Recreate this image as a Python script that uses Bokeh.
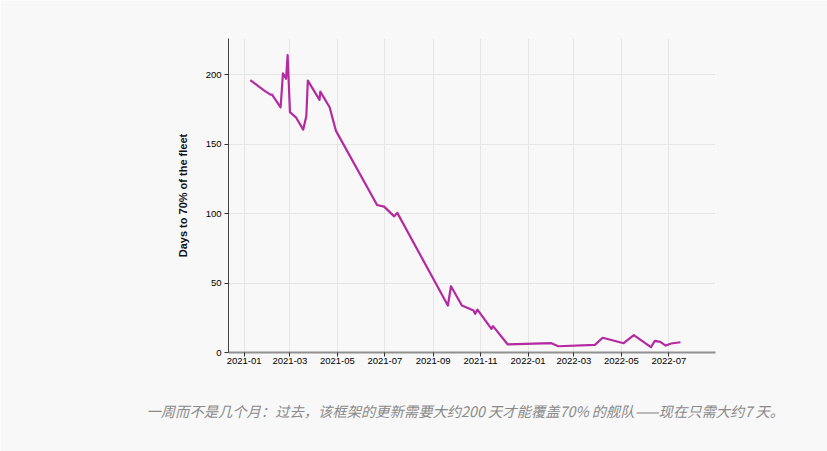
import pandas as pd
from bokeh.plotting import figure
from bokeh.models import FixedTicker, DatetimeTickFormatter, Title, Range1d
from bokeh.embed import file_html
from bokeh.resources import INLINE

dates = ["2021-01-09", "2021-01-27", "2021-02-04", "2021-02-06", "2021-02-17",
         "2021-02-20", "2021-02-24", "2021-02-26", "2021-03-01", "2021-03-09",
         "2021-03-18", "2021-03-22", "2021-03-24", "2021-04-08", "2021-04-09",
         "2021-04-21", "2021-04-29", "2021-06-21", "2021-06-30", "2021-07-13",
         "2021-07-17", "2021-09-20", "2021-09-24", "2021-10-08", "2021-10-23",
         "2021-10-25", "2021-10-28", "2021-11-15", "2021-11-17", "2021-12-06",
         "2022-01-31", "2022-02-09", "2022-03-28", "2022-04-07", "2022-05-04",
         "2022-05-17", "2022-06-08", "2022-06-13", "2022-06-20", "2022-06-27",
         "2022-07-04", "2022-07-16"]
days_to_70 = [196, 188.5, 185.6, 185.6, 176.5,
              201, 197, 214, 173, 169,
              160.4, 170, 195.7, 181.8, 187.8,
              176.5, 159.7, 106.2, 105, 98,
              100.5, 33.8, 47.7, 33.8, 30.2,
              27.8, 30.9, 17, 19, 5.8,
              6.7, 4.5, 5.5, 10.6, 6.7,
              12.5, 3.8, 8.4, 7.7, 5,
              6.5, 7.4]
tick_dates = ["2021-01-01", "2021-03-01", "2021-05-01", "2021-07-01", "2021-09-01",
              "2021-11-01", "2022-01-01", "2022-03-01", "2022-05-01", "2022-07-01"]
y_ticks = [0, 50, 100, 150, 200]
y_label = "Days to 70% of the fleet"
caption = "一周而不是几个月：过去，该框架的更新需要大约200 天才能覆盖70% 的舰队——现在只需大约7 天。"

x = pd.to_datetime(dates)
bg = "#f8f8f8"

p = figure(width=827, height=451, x_axis_type="datetime",
           output_backend="svg", toolbar_location=None,
           x_range=Range1d(pd.Timestamp("2020-12-12"), pd.Timestamp("2022-08-30")),
           y_range=Range1d(0, 226),
           min_border_left=228, min_border_right=112,
           min_border_top=38, min_border_bottom=99,
           background_fill_color=bg, border_fill_color=bg, outline_line_color=None)

p.line(x, days_to_70, line_color="#b42aa0", line_width=2.2, line_join="round")

tick_ms = [pd.Timestamp(t).value / 1e6 for t in tick_dates]
p.xaxis.ticker = FixedTicker(ticks=tick_ms)
p.xaxis.formatter = DatetimeTickFormatter(days="%Y-%m", months="%Y-%m", years="%Y-%m")
p.yaxis.ticker = FixedTicker(ticks=y_ticks)

for ax in (p.xaxis[0], p.yaxis[0]):
    ax.major_label_text_font = "Liberation Sans"
    ax.major_label_text_font_size = "9.5px"
    ax.major_label_text_color = "#000000"
    ax.major_tick_line_color = "#333333"
    ax.major_tick_out = 4
    ax.major_tick_in = 0
    ax.minor_tick_line_color = None
    ax.major_label_standoff = 3

p.xaxis.major_label_standoff = 1
p.xaxis.axis_line_color = "#909090"
p.xaxis.axis_line_width = 2
p.yaxis.axis_line_color = "#444444"
p.yaxis.axis_line_width = 1

p.yaxis.axis_label = y_label
p.yaxis.axis_label_text_font = "Liberation Sans"
p.yaxis.axis_label_text_font_style = "bold"
p.yaxis.axis_label_text_font_size = "11px"
p.yaxis.axis_label_text_color = "#111111"
p.yaxis.axis_label_standoff = 14

p.grid.grid_line_color = "#e6e6e6"
p.grid.grid_line_width = 1

t = Title(text=caption, align="left", text_font="Noto Sans CJK SC",
          text_font_size="14.3px", text_font_style="italic",
          text_color="#8a8a8a", standoff=62, offset=-82)
p.add_layout(t, "below")

open("out.html", "w").write(file_html(p, INLINE))
